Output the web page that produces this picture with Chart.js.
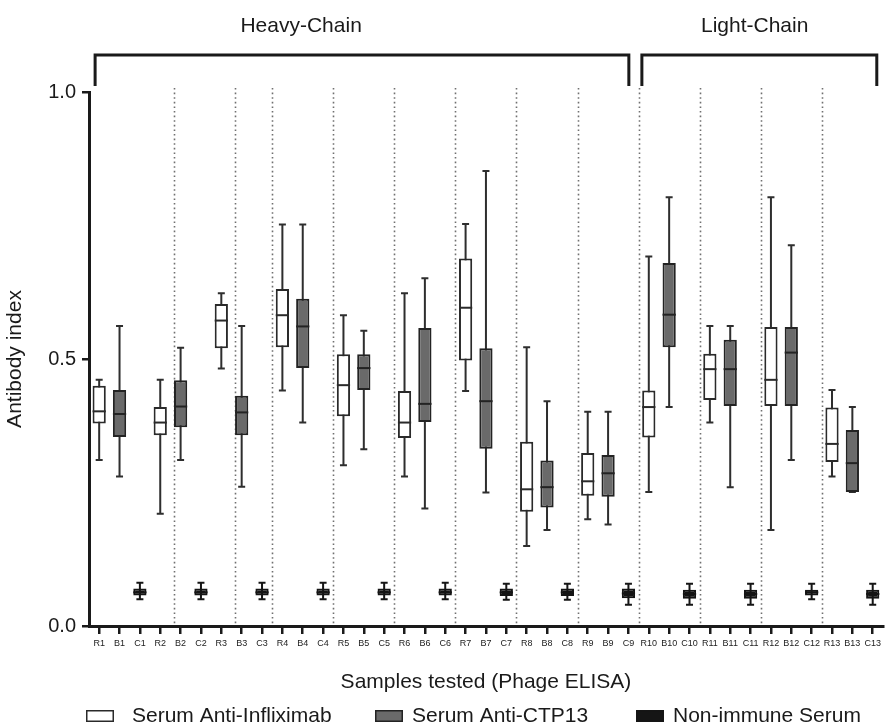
<!DOCTYPE html>
<html><head><meta charset="utf-8">
<script src="https://cdn.jsdelivr.net/npm/chart.js@4.4.1/dist/chart.umd.min.js"></script>
<style>html,body{margin:0;padding:0;background:#fff}#wrap{width:885px;height:728px}</style>
</head><body><div id="wrap"><canvas id="c" width="885" height="728"></canvas></div>
<script>
const categories = ['R1','B1','C1','R2','B2','C2','R3','B3','C3','R4','B4','C4','R5','B5','C5','R6','B6','C6','R7','B7','C7','R8','B8','C8','R9','B9','C9','R10','B10','C10','R11','B11','C11','R12','B12','C12','R13','B13','C13'];
const seriesNames = ['Serum Anti-Infliximab','Serum Anti-CTP13','Non-immune Serum'];
const yTicks = [0, 0.5, 1.0];

// Serum Anti-Infliximab (R1..R13)
const infMin = [0.311,0.210,0.482,0.441,0.301,0.280,0.440,0.150,0.200,0.251,0.381,0.180,0.280];
const infQ1  = [0.379,0.357,0.520,0.522,0.393,0.352,0.497,0.214,0.244,0.353,0.423,0.412,0.307];
const infMed = [0.402,0.381,0.572,0.582,0.451,0.381,0.596,0.256,0.271,0.410,0.481,0.461,0.341];
const infQ3  = [0.450,0.410,0.603,0.631,0.509,0.440,0.688,0.345,0.324,0.441,0.510,0.560,0.409];
const infMax = [0.461,0.461,0.623,0.752,0.582,0.623,0.753,0.522,0.401,0.692,0.562,0.803,0.442];

// Serum Anti-CTP13 (B1..B13)
const ctpMin = [0.280,0.311,0.261,0.381,0.331,0.220,0.250,0.180,0.190,0.410,0.260,0.311,0.251];
const ctpQ1  = [0.354,0.372,0.357,0.483,0.442,0.382,0.332,0.222,0.242,0.522,0.412,0.412,0.251];
const ctpMed = [0.397,0.411,0.400,0.561,0.483,0.416,0.421,0.260,0.286,0.583,0.481,0.512,0.305];
const ctpQ3  = [0.442,0.460,0.431,0.613,0.509,0.558,0.520,0.310,0.320,0.680,0.536,0.560,0.367];
const ctpMax = [0.562,0.521,0.562,0.752,0.553,0.651,0.852,0.421,0.401,0.803,0.562,0.713,0.410];

// Non-immune Serum (C1..C13)
const nisMin = [0.050,0.050,0.050,0.050,0.050,0.050,0.049,0.049,0.040,0.040,0.040,0.050,0.040];
const nisQ1  = [0.057,0.057,0.057,0.057,0.057,0.057,0.056,0.056,0.052,0.051,0.051,0.057,0.051];
const nisMed = [0.063,0.063,0.063,0.063,0.063,0.063,0.063,0.063,0.061,0.060,0.060,0.063,0.060];
const nisQ3  = [0.070,0.070,0.070,0.070,0.070,0.070,0.070,0.070,0.070,0.068,0.068,0.068,0.068];
const nisMax = [0.081,0.081,0.081,0.081,0.081,0.081,0.079,0.079,0.079,0.079,0.079,0.079,0.079];

const summaries = [
  {min: infMin, q1: infQ1, med: infMed, q3: infQ3, max: infMax},
  {min: ctpMin, q1: ctpQ1, med: ctpMed, q3: ctpQ3, max: ctpMax},
  {min: nisMin, q1: nisQ1, med: nisMed, q3: nisQ3, max: nisMax}
];
const styles = [
  {fill: '#ffffff', stroke: '#2a2a2a'},
  {fill: '#6a6a6a', stroke: '#232323'},
  {fill: '#151515', stroke: '#151515'}
];

function boxData(si) {
  const s = summaries[si];
  return categories.map((c, k) => (k % 3 === si ? [s.q1[Math.floor(k/3)], s.q3[Math.floor(k/3)]] : null));
}

const FONT = "'Liberation Sans', Arial, Helvetica, sans-serif";
const TXT = '#1a1a1a';

// layout helpers (positions, in category-index units)
const separatorsAt = [3.68, 6.68, 8.5, 11.5, 14.5, 17.5, 20.5, 23.5, 26.5, 29.5, 32.5, 35.5];
const brackets = [
  {from: -0.2, to: 26.02, label: 'Heavy-Chain', labelAt: 9.92},
  {from: 26.66, to: 38.2, label: 'Light-Chain', labelAt: 32.2}
];

const decor = {
  id: 'decor',
  beforeDatasetsDraw(chart) {
    const {ctx, chartArea: a, scales: {x, y}} = chart;
    ctx.save();
    ctx.strokeStyle = '#707070';
    ctx.lineWidth = 1.6;
    ctx.setLineDash([1.6, 3]);
    separatorsAt.forEach(p => {
      const px = Math.round(x.getPixelForValue(p)) + 0.5;
      ctx.beginPath(); ctx.moveTo(px, a.top - 4); ctx.lineTo(px, a.bottom - 1); ctx.stroke();
    });
    ctx.setLineDash([]);
    summaries.forEach((s, si) => {
      ctx.strokeStyle = styles[si].stroke === '#151515' ? '#151515' : '#2e2e2e';
      ctx.lineWidth = 2;
      for (let g = 0; g < s.min.length; g++) {
        const px = x.getPixelForValue(g * 3 + si);
        const y0 = y.getPixelForValue(s.min[g]);
        const y1 = y.getPixelForValue(s.max[g]);
        ctx.beginPath();
        ctx.moveTo(px, y0); ctx.lineTo(px, y1);
        ctx.moveTo(px - 3.5, y0); ctx.lineTo(px + 3.5, y0);
        ctx.moveTo(px - 3.5, y1); ctx.lineTo(px + 3.5, y1);
        ctx.stroke();
      }
    });
    ctx.restore();
  },
  afterDatasetsDraw(chart) {
    const {ctx, scales: {x, y}} = chart;
    ctx.save();
    summaries.forEach((s, si) => {
      const meta = chart.getDatasetMeta(si);
      ctx.strokeStyle = styles[si].stroke;
      ctx.lineWidth = 2;
      for (let g = 0; g < s.med.length; g++) {
        const k = g * 3 + si;
        const bar = meta.data[k];
        const half = bar ? bar.width / 2 : 6;
        const px = x.getPixelForValue(k);
        const py = y.getPixelForValue(s.med[g]);
        ctx.beginPath(); ctx.moveTo(px - half, py); ctx.lineTo(px + half, py); ctx.stroke();
      }
    });
    ctx.restore();
  },
  afterDraw(chart) {
    const {ctx, scales: {x}} = chart;
    ctx.save();
    // brackets + headings
    ctx.strokeStyle = '#1a1a1a';
    ctx.lineWidth = 3;
    ctx.lineJoin = 'miter';
    brackets.forEach(b => {
      const x0 = x.getPixelForValue(b.from), x1 = x.getPixelForValue(b.to);
      ctx.beginPath();
      ctx.moveTo(x0, 86); ctx.lineTo(x0, 55); ctx.lineTo(x1, 55); ctx.lineTo(x1, 86);
      ctx.stroke();
      ctx.fillStyle = TXT;
      ctx.font = '21px ' + FONT;
      ctx.textAlign = 'center'; ctx.textBaseline = 'middle';
      ctx.fillText(b.label, x.getPixelForValue(b.labelAt), 26);
    });
    // legend
    const boxLeft = [86, 375, 636];
    const yc = 716;
    chart.data.datasets.forEach((ds, i) => {
      ctx.fillStyle = ds.backgroundColor;
      ctx.fillRect(boxLeft[i], yc - 6, 28, 12);
      ctx.strokeStyle = ds.borderColor;
      ctx.lineWidth = 1.5;
      ctx.strokeRect(boxLeft[i] + 0.75, yc - 6 + 0.75, 26.5, 10.5);
      ctx.fillStyle = TXT;
      ctx.font = '21px ' + FONT;
      ctx.textAlign = 'left'; ctx.textBaseline = 'middle';
      ctx.fillText(ds.label, boxLeft[i] + 28 + (i === 0 ? 18 : 9), yc);
    });
    ctx.restore();
  }
};

new Chart(document.getElementById('c'), {
  type: 'bar',
  data: {
    labels: categories,
    datasets: seriesNames.map((name, si) => ({
      label: name,
      data: boxData(si),
      backgroundColor: styles[si].fill,
      borderColor: styles[si].stroke,
      borderWidth: 2,
      borderSkipped: false,
      grouped: false,
      barPercentage: 0.65,
      categoryPercentage: 1.0
    }))
  },
  options: {
    responsive: false,
    animation: false,
    devicePixelRatio: 1,
    layout: {padding: {top: 92, right: 2, bottom: 33, left: 0}},
    plugins: {legend: {display: false}, tooltip: {enabled: false}},
    scales: {
      x: {
        offset: true,
        grid: {offset: false, drawOnChartArea: false, drawTicks: true, tickLength: 8, color: '#1a1a1a', lineWidth: 2.5},
        border: {display: true, color: '#1a1a1a', width: 3},
        ticks: {autoSkip: false, maxRotation: 0, minRotation: 0, padding: 4, color: '#222', font: {family: FONT, size: 9}},
        title: {display: true, text: 'Samples tested (Phage ELISA)', color: TXT, font: {family: FONT, size: 21}, padding: {top: 17, bottom: 0}}
      },
      y: {
        min: 0, max: 1,
        afterFit(scale) { scale.width = 89; },
        afterBuildTicks(scale) { scale.ticks = yTicks.map(v => ({value: v})); },
        grid: {drawOnChartArea: false, drawTicks: true, tickLength: 7, color: '#1a1a1a', lineWidth: 2.5},
        border: {display: true, color: '#1a1a1a', width: 3},
        ticks: {padding: 6, color: TXT, font: {family: FONT, size: 20}, callback: v => Number(v).toFixed(1)},
        title: {display: true, text: 'Antibody index', color: TXT, font: {family: FONT, size: 21}, padding: {top: 3, bottom: 4}}
      }
    }
  },
  plugins: [decor]
});
</script></body></html>
